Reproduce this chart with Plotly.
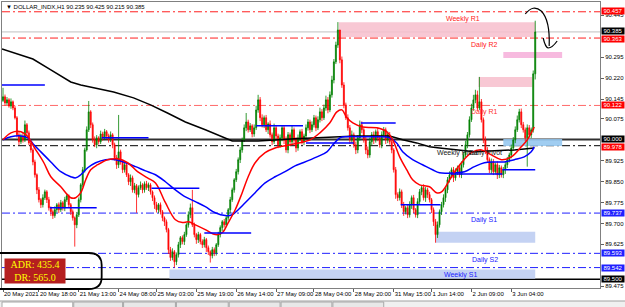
import plotly.graph_objects as go

# ---------------- data ----------------
close = [
    90.153, 90.131, 90.142, 90.120, 90.135, 90.113, 90.078, 90.017, 89.992, 90.013,
    89.999, 90.053, 90.024, 89.988, 89.963, 89.920, 89.874, 89.820, 89.785, 89.767,
    89.792, 89.813, 89.785, 89.756, 89.742, 89.728, 89.749, 89.767, 89.749, 89.774,
    89.756, 89.785, 89.799, 89.767, 89.742, 89.720, 89.695, 89.731, 89.785, 89.838,
    89.892, 89.963, 90.035, 90.099, 90.053, 89.999, 89.981, 90.006, 89.992, 90.020,
    90.006, 90.028, 90.013, 89.999, 90.017, 89.981, 89.935, 89.910, 89.956, 89.920,
    89.892, 89.910, 89.874, 89.849, 89.863, 89.820, 89.835, 89.803, 89.828, 89.838,
    89.820, 89.842, 89.828, 89.838, 89.813, 89.792, 89.767, 89.749, 89.767, 89.742,
    89.720, 89.706, 89.678, 89.606, 89.578, 89.599, 89.563, 89.588, 89.624, 89.649,
    89.635, 89.660, 89.695, 89.731, 89.756, 89.695, 89.660, 89.642, 89.660, 89.635,
    89.624, 89.642, 89.613, 89.599, 89.585, 89.606, 89.595, 89.624, 89.660, 89.685,
    89.706, 89.695, 89.720, 89.749, 89.785, 89.820, 89.856, 89.885, 89.928, 89.963,
    89.999, 90.042, 90.063, 90.035, 90.049, 90.020, 90.042, 90.106, 90.142, 90.078,
    90.053, 90.078, 90.035, 90.056, 90.017, 89.992, 90.042, 90.013, 89.981, 90.006,
    90.042, 89.999, 89.963, 90.017, 89.992, 90.035, 89.999, 89.970, 90.006, 90.028,
    89.992, 90.013, 90.042, 90.063, 90.035, 90.053, 90.078, 90.042, 90.071, 90.099,
    90.078, 90.113, 90.142, 90.106, 90.160, 90.213, 90.278, 90.338, 90.392, 90.285,
    90.195, 90.124, 90.078, 90.042, 89.999, 90.017, 89.981, 89.963, 90.006, 90.053,
    90.035, 89.999, 89.963, 89.945, 89.992, 90.017, 89.999, 90.028, 90.006, 89.981,
    90.017, 90.035, 89.999, 90.017, 89.992, 89.963, 89.892, 89.803, 89.792, 89.813,
    89.767, 89.742, 89.756, 89.731, 89.767, 89.792, 89.749, 89.731, 89.778, 89.813,
    89.828, 89.792, 89.820, 89.803, 89.785, 89.749, 89.706, 89.660, 89.695, 89.742,
    89.767, 89.792, 89.820, 89.856, 89.874, 89.892, 89.863, 89.885, 89.899, 89.874,
    89.910, 89.945, 89.981, 90.017, 90.071, 90.113, 90.142, 90.160, 90.113, 90.135,
    90.071, 89.999, 89.963, 89.928, 89.892, 89.920, 89.885, 89.910, 89.874, 89.899,
    89.874, 89.892, 89.910, 89.928, 89.945, 89.970, 89.999, 90.035, 90.071, 90.099,
    90.053, 90.035, 90.006, 90.042, 90.017, 90.035, 90.235, 90.385,
]
first_open = 90.140

# upper / lower shadow lengths, in thousandths of an index point
wick_up = [
    32, 8, 10, 6, 12, 5, 8, 6, 10, 8,
    12, 15, 6, 8, 5, 6, 8, 5, 10, 6,
    12, 8, 6, 10, 5, 8, 12, 6, 8, 10,
    6, 10, 8, 5, 6, 8, 5, 10, 8, 6,
    10, 8, 12, 39, 6, 8, 12, 10, 6, 12,
    8, 10, 6, 8, 12, 6, 8, 10, 132, 8,
    6, 10, 8, 6, 12, 8, 10, 6, 8, 12,
    6, 8, 10, 8, 6, 5, 8, 10, 6, 8,
    6, 5, 8, 6, 10, 12, 6, 8, 10, 6,
    8, 10, 6, 12, 15, 64, 8, 6, 10, 6,
    8, 10, 6, 8, 5, 10, 8, 6, 10, 8,
    6, 10, 8, 6, 10, 8, 6, 10, 8, 10,
    8, 12, 32, 8, 10, 6, 12, 15, 18, 10,
    12, 8, 10, 6, 12, 8, 15, 10, 8, 12,
    10, 8, 12, 10, 8, 15, 8, 10, 12, 8,
    10, 8, 12, 10, 8, 12, 10, 8, 12, 15,
    10, 12, 15, 10, 12, 15, 10, 12, 28, 0,
    12, 10, 8, 12, 10, 15, 8, 12, 10, 15,
    12, 8, 10, 12, 15, 10, 12, 8, 15, 10,
    12, 10, 8, 12, 10, 8, 6, 10, 8, 12,
    8, 10, 6, 10, 12, 8, 10, 6, 12, 10,
    8, 12, 10, 8, 10, 6, 8, 10, 12, 8,
    10, 12, 8, 10, 12, 8, 10, 12, 8, 10,
    12, 10, 15, 10, 12, 15, 18, 18, 15, 89,
    10, 8, 12, 10, 8, 12, 10, 8, 12, 10,
    8, 10, 12, 10, 8, 12, 10, 12, 15, 11,
    12, 10, 8, 12, 10, 8, 12, 40,
]
wick_lo = [
    6, 10, 8, 6, 10, 8, 6, 10, 12, 8,
    10, 8, 12, 8, 10, 12, 10, 15, 10, 12,
    10, 8, 12, 10, 15, 12, 8, 10, 12, 8,
    10, 12, 8, 10, 12, 10, 78, 12, 8, 10,
    8, 10, 6, 8, 12, 10, 8, 12, 10, 8,
    10, 8, 12, 10, 8, 12, 10, 15, 12, 10,
    12, 10, 8, 12, 15, 10, 12, 65, 10, 8,
    12, 10, 8, 12, 10, 12, 15, 10, 12, 10,
    12, 15, 10, 15, 12, 10, 21, 12, 10, 12,
    10, 12, 8, 10, 12, 8, 10, 15, 12, 10,
    12, 10, 15, 12, 25, 10, 12, 10, 8, 10,
    12, 10, 8, 10, 12, 8, 10, 8, 10, 12,
    10, 8, 12, 10, 8, 12, 10, 8, 10, 12,
    10, 12, 8, 15, 10, 12, 8, 15, 12, 10,
    12, 15, 10, 12, 15, 10, 12, 15, 10, 12,
    10, 12, 8, 10, 12, 8, 10, 12, 8, 10,
    12, 8, 10, 12, 8, 10, 12, 8, 10, 12,
    10, 12, 8, 10, 15, 12, 10, 15, 12, 10,
    12, 10, 15, 12, 10, 12, 15, 10, 12, 10,
    12, 10, 15, 12, 10, 12, 10, 15, 12, 10,
    12, 15, 10, 12, 10, 15, 12, 10, 12, 10,
    12, 10, 15, 12, 10, 12, 15, 29, 12, 10,
    12, 10, 15, 12, 10, 12, 15, 10, 12, 10,
    12, 10, 8, 12, 10, 8, 10, 12, 10, 8,
    10, 12, 15, 10, 12, 15, 12, 10, 15, 12,
    10, 12, 15, 12, 10, 12, 10, 12, 8, 10,
    12, 10, 12, 103, 10, 12, 10, 20,
]

time_label_idx = [0, 18, 38, 58, 77, 97, 117, 137, 156, 176, 196, 215, 235, 255]
time_labels = ["20 May 2021", "20 May 18:00", "21 May 13:00", "24 May 08:00",
               "25 May 03:00", "25 May 19:00", "26 May 14:00", "27 May 09:00",
               "28 May 04:00", "28 May 20:00", "31 May 15:00", "1 Jun 14:00",
               "2 Jun 09:00", "3 Jun 04:00"]

# scale ticks visible in the reference (the others sit under the coloured price tags)
price_ticks = [89.475, 89.625, 89.700, 89.775, 89.850, 89.925,
               90.075, 90.145, 90.220, 90.295, 90.445]

# moving averages (bar index, price)
ma_fast_x = [0, 4, 9, 12.5, 15.5, 20.5, 24, 29, 34, 36.5, 39, 41.5, 44, 47.5, 52.5, 57.5,
             62.5, 67.5, 72.5, 76.5, 81.5, 86.5, 90, 93, 96.5, 101.5, 106.5, 110, 113,
             116.5, 120, 123, 126.5, 131.5, 136.5, 141.5, 146.5, 154, 159, 164, 167.5,
             170, 172.5, 175.5, 180.5, 187.5, 192.5, 195.5, 199, 202.5, 205.5, 209, 214,
             217.5, 220, 225, 230, 235, 240, 245, 250, 255, 260, 263, 266.5]
ma_fast_y = [89.999, 90.024, 90.028, 90.010, 89.974, 89.917, 89.867, 89.831, 89.792, 89.792,
             89.810, 89.856, 89.892, 89.910, 89.928, 89.931, 89.917, 89.885, 89.863, 89.845,
             89.774, 89.713, 89.703, 89.706, 89.695, 89.678, 89.660, 89.667, 89.703, 89.749,
             89.810, 89.867, 89.917, 89.953, 89.970, 89.978, 89.985, 89.999, 90.024, 90.060,
             90.099, 90.106, 90.078, 90.060, 90.045, 90.042, 90.028, 89.999, 89.938, 89.892,
             89.856, 89.838, 89.831, 89.810, 89.813, 89.867, 89.917, 89.953, 89.963, 89.945,
             89.928, 89.938, 89.974, 89.999, 90.045]

ma_mid_x = [0, 4, 9, 12.5, 15.5, 19, 24, 29, 34, 36.5, 39, 42.5, 46.5, 51.5, 56.5, 61.5,
            66.5, 71.5, 76.5, 81.5, 86.5, 91.5, 96.5, 101.5, 106.5, 111.5, 115, 118, 121.5,
            126.5, 131.5, 136.5, 141.5, 146.5, 150.5, 157.5, 162.5, 165.5, 169, 172.5, 180.5,
            189, 194, 197.5, 200.5, 205.5, 210.5, 215.5, 219, 226.5, 231.5, 236.5, 241.5,
            246.5, 251.5, 256.5, 261.5, 265, 266.5]
ma_mid_y = [89.999, 90.010, 90.013, 90.006, 89.981, 89.956, 89.920, 89.885, 89.867, 89.863,
            89.874, 89.899, 89.917, 89.928, 89.928, 89.917, 89.903, 89.888, 89.874, 89.849,
            89.820, 89.795, 89.778, 89.760, 89.738, 89.728, 89.731, 89.749, 89.774, 89.810,
            89.845, 89.867, 89.885, 89.906, 89.917, 89.938, 89.956, 89.981, 90.006, 90.010,
            90.010, 90.010, 90.006, 89.988, 89.956, 89.928, 89.910, 89.892, 89.881, 89.881,
            89.885, 89.903, 89.917, 89.920, 89.920, 89.928, 89.938, 89.956, 89.974]

ma_slow_x = [-0.5, 15, 24, 34, 39, 49, 55.5, 65.5, 74, 82.5, 91.5, 101.5, 110, 115, 128, 135,
             146.5, 169, 177.5, 194, 200.5, 207.5, 214, 219, 226.5, 236.5, 246.5, 256.5, 266.5]
ma_slow_y = [90.324, 90.288, 90.249, 90.206, 90.195, 90.181, 90.170, 90.149, 90.124, 90.095,
             90.063, 90.035, 90.010, 89.995, 89.995, 89.999, 90.003, 90.010, 90.013, 90.013,
             89.999, 89.988, 89.974, 89.970, 89.963, 89.956, 89.960, 89.963, 89.970]

pivot_names = ["Weekly R1", "Daily R2", "Daily R1", "Daily Pivot", "Daily S1", "Daily S2", "Weekly S1"]
pivot_values = [90.457, 90.363, 90.122, 89.978, 89.737, 89.593, 89.542]
round_levels = [90.000, 89.500]
bid_price = 90.385

# short swing-level segments (bar index from / to, price)
swing_x0 = [-0.5, 49.5, 23.5, 74.5, 101, 127, 179.5, 152, 199.5, 224.5, 250.5]
swing_x1 = [21, 73, 47, 98.5, 124.5, 150.5, 197, 176, 219.5, 250.5, 267]
swing_price = [90.195, 90.006, 89.756, 89.826, 89.666, 90.049, 90.059, 89.988, 89.767, 89.877, 89.892]

# supply / demand zones
zone_x0 = [168.5, 251, 238.5, 251, 217, 83.5]
zone_x1 = [267, 280.5, 265.5, 280.5, 267, 267]
zone_lo = [90.367, 90.292, 90.188, 89.977, 89.631, 89.502]
zone_hi = [90.420, 90.313, 90.224, 90.002, 89.670, 89.535]
zone_kind = ["supply", "supply2", "supply", "demand2", "demand", "demand"]

adr_value = 435.4
dr_value = 565.0
symbol = "DOLLAR_INDX,H1"
last_ohlc = [90.235, 90.425, 90.215, 90.385]

# ---------------- figure ----------------
W, H = 625, 307
ML, MR, MT, MB = 1, 24, 2, 19
PW, PH = W - ML - MR, H - MT - MB
Y0, Y1 = 89.469, 90.492


def pp(x, y):
    """pixel -> paper coordinates (decorations only)"""
    return (x - ML) / PW, (H - MB - y) / PH


n = len(close)
idx = list(range(n))
opens = [first_open] + close[:-1]
high = [max(o, c) + u / 1000 for o, c, u in zip(opens, close, wick_up)]
low = [min(o, c) - d / 1000 for o, c, d in zip(opens, close, wick_lo)]

fig = go.Figure()
fig.add_trace(go.Candlestick(
    x=idx, open=opens, high=high, low=low, close=close,
    increasing=dict(line=dict(color="#008000", width=0.8), fillcolor="#008000"),
    decreasing=dict(line=dict(color="#ff0000", width=0.8), fillcolor="#ff0000"),
    whiskerwidth=0, showlegend=False, hoverinfo="skip"))

fig.add_trace(go.Scatter(x=ma_slow_x, y=ma_slow_y, mode="lines",
                         line=dict(color="#000000", width=1.5), showlegend=False, hoverinfo="skip"))
fig.add_trace(go.Scatter(x=ma_mid_x, y=ma_mid_y, mode="lines",
                         line=dict(color="#0000ff", width=1.5, shape="spline"), showlegend=False, hoverinfo="skip"))
fig.add_trace(go.Scatter(x=ma_fast_x, y=ma_fast_y, mode="lines",
                         line=dict(color="#ff0000", width=1.5, shape="spline"), showlegend=False, hoverinfo="skip"))

shapes = []
zone_colors = {"supply": "rgba(247,190,205,0.85)", "supply2": "rgba(246,178,220,0.9)",
               "demand": "rgba(190,205,242,0.9)", "demand2": "rgba(150,200,240,0.9)"}
for x0, x1, lo, hi, k in zip(zone_x0, zone_x1, zone_lo, zone_hi, zone_kind):
    shapes.append(dict(type="rect", xref="x", yref="y", x0=x0, x1=x1, y0=lo, y1=hi,
                       fillcolor=zone_colors[k], line=dict(width=0), layer="below"))

pivot_colors = ["#ff2020", "#ff2020", "#ff6a6a", "#000000", "#2020ff", "#2020ff", "#2020ff"]
for v, c in zip(pivot_values, pivot_colors):
    shapes.append(dict(type="line", xref="paper", yref="y", x0=0, x1=1, y0=v, y1=v,
                       line=dict(color=c, width=1, dash="8px,3px,2px,3px"), layer="below"))
shapes.append(dict(type="line", xref="paper", yref="y", x0=0, x1=1, y0=round_levels[0], y1=round_levels[0],
                   line=dict(color="#303030", width=2), layer="below"))
shapes.append(dict(type="line", xref="paper", yref="y", x0=0, x1=1, y0=round_levels[1], y1=round_levels[1],
                   line=dict(color="#000000", width=1.5), layer="below"))
shapes.append(dict(type="line", xref="paper", yref="y", x0=0, x1=1, y0=bid_price, y1=bid_price,
                   line=dict(color="#c0c0c0", width=1), layer="below"))

for x0, x1, p in zip(swing_x0, swing_x1, swing_price):
    shapes.append(dict(type="line", xref="x", yref="y", x0=x0, x1=x1, y0=p, y1=p,
                       line=dict(color="#0000ff", width=1.5), layer="above"))


def path(points_cmds):
    out = []
    for cmd, pts in points_cmds:
        s = cmd
        for (x, y) in pts:
            px_, py_ = pp(x, y)
            s += f" {px_:.5f},{py_:.5f}"
        out.append(s)
    return " ".join(out)


# curved arrow annotation
arrow = path([("M", [(526, 14)]), ("Q", [(534, 4), (542, 11)]),
              ("Q", [(551, 20), (550, 46)])])
shapes.append(dict(type="path", xref="paper", yref="paper", path=arrow,
                   line=dict(color="black", width=1.2)))
head = path([("M", [(544, 38)]), ("Q", [(546, 47), (549, 48)]), ("Q", [(553, 48), (558, 41)])])
shapes.append(dict(type="path", xref="paper", yref="paper", path=head,
                   line=dict(color="black", width=1.2)))
# chart shift marker
tri = path([("M", [(538, 2)]), ("L", [(544, 2), (541, 6)]), ("Z", [])])
shapes.append(dict(type="path", xref="paper", yref="paper", path=tri,
                   fillcolor="#a0a0a0", line=dict(width=0)))
# rounded frame around ADR box
rr = path([("M", [(-6, 253)]), ("L", [(88, 253)]), ("Q", [(101, 253), (101, 265)]),
           ("L", [(101, 277)]), ("Q", [(101, 289), (88, 289)]), ("L", [(-6, 289)])])
shapes.append(dict(type="path", xref="paper", yref="paper", path=rr,
                   line=dict(color="black", width=1.8)))
# bottom tab bar
tx0, ty0 = pp(-2, 301)
tx1, ty1 = pp(W + 2, H + 2)
shapes.append(dict(type="rect", xref="paper", yref="paper", x0=tx0, x1=tx1, y0=ty0, y1=ty1,
                   fillcolor="#f0f0f0", line=dict(color="#a0a0a0", width=1)))
for a, b, fc in [(1, 72, "#ffffff"), (73, 122, "#e8e8e8"), (123, 175, "#e8e8e8"),
                 (176, 228, "#e8e8e8"), (229, 280, "#e8e8e8"), (281, 332, "#e8e8e8"),
                 (333, 384, "#e8e8e8")]:
    ax0, ay0 = pp(a, 302)
    ax1, ay1 = pp(b, H + 2)
    shapes.append(dict(type="rect", xref="paper", yref="paper", x0=ax0, x1=ax1, y0=ay0, y1=ay1,
                       fillcolor=fc, line=dict(color="#a8a8a8", width=1)))

annotations = []
FONT = "Liberation Sans"
# title line
tx, ty = pp(3, 7)
annotations.append(dict(xref="paper", yref="paper", x=tx, y=ty, xanchor="left", yanchor="middle",
                        text="\u25BC " + symbol + " " + " ".join(f"{v:.3f}" for v in last_ohlc),
                        showarrow=False, font=dict(family=FONT, size=6, color="black")))

# pivot texts (placed just under their lines)
text_pos = {"Weekly R1": 231, "Daily R2": 241.5, "Daily R1": 241.5, "Daily S1": 241.5,
            "Daily S2": 242, "Weekly S1": 229.5}
for name, v, c in zip(pivot_names, pivot_values, pivot_colors):
    if name == "Daily Pivot":
        continue
    annotations.append(dict(xref="x", yref="y", x=text_pos[name], y=v, yanchor="top", yshift=-1,
                            text=name, showarrow=False,
                            font=dict(family=FONT, size=7, color=c if c != "#ff6a6a" else "#ff3030")))
pv = pivot_values[pivot_names.index("Daily Pivot")]
annotations.append(dict(xref="x", yref="y", x=228, y=pv, yanchor="top", yshift=-1,
                        text="Weekly Pivot", showarrow=False, font=dict(family=FONT, size=7, color="#202020")))
annotations.append(dict(xref="x", yref="y", x=242, y=pv, yanchor="top", yshift=-1,
                        text="Daily Pivot", showarrow=False, font=dict(family=FONT, size=7, color="#202020")))

# right-hand price labels (value, colour, vertical nudge in px)
price_labels = [(pivot_values[0], "#ff0000", 1), (bid_price, "#000000", 1),
                (pivot_values[1], "#ff0000", -1), (pivot_values[2], "#ff0000", 0),
                (round_levels[0], "#000000", 1), (pivot_values[3], "#ff0000", -1),
                (pivot_values[4], "#2020ff", 0), (pivot_values[5], "#2020ff", 0),
                (pivot_values[6], "#2020ff", 0), (round_levels[1], "#000000", 0)]
for v, c, s in price_labels:
    annotations.append(dict(xref="paper", yref="y", x=1, y=v, xanchor="left", yanchor="middle",
                            xshift=1, yshift=s, text=f"{v:.3f}", showarrow=False, bgcolor=c,
                            width=22, height=6, borderpad=0,
                            font=dict(family=FONT, size=6, color="white")))

# ADR box
ax, ay = pp(3, 258)
annotations.append(dict(xref="paper", yref="paper", x=ax, y=ay, xanchor="left", yanchor="top",
                        text=f"ADR: {adr_value:.1f}<br>DR: {dr_value:.1f}", showarrow=False,
                        bgcolor="#b51f1f", width=60, height=24, borderpad=0, align="center",
                        font=dict(family="Liberation Serif", size=10, color="#ffff00")))

fig.update_layout(
    width=W, height=H, margin=dict(l=ML, r=MR, t=MT, b=MB, pad=0),
    paper_bgcolor="white", plot_bgcolor="white", showlegend=False,
    shapes=shapes, annotations=annotations,
    xaxis=dict(range=[-0.5, PW / 2 - 0.5], tickvals=time_label_idx, ticktext=time_labels,
               tickangle=0, ticks="outside", ticklen=3, tickcolor="#606060",
               ticklabelposition="outside right",
               tickfont=dict(family=FONT, size=6, color="black"), showgrid=False, zeroline=False,
               showline=True, linecolor="#808080", linewidth=1, mirror=True,
               rangeslider=dict(visible=False), fixedrange=True),
    yaxis=dict(range=[Y0, Y1], side="right", tickvals=price_ticks,
               ticktext=[f"{v:.3f}" for v in price_ticks], ticks="outside", ticklen=3,
               tickcolor="#606060", tickfont=dict(family=FONT, size=6, color="black"),
               showgrid=False, zeroline=False, showline=True, linecolor="#808080",
               linewidth=1, mirror=True, fixedrange=True),
)

fig.write_html("out.html")
